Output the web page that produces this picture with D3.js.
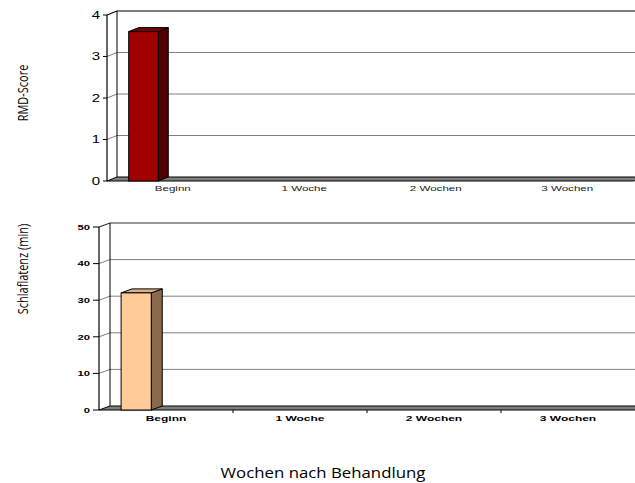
<!DOCTYPE html>
<html>
<head>
<meta charset="utf-8">
<script src="https://cdn.jsdelivr.net/npm/d3@7"></script>
<style>
  html, body { margin: 0; padding: 0; background: #fff; }
  svg { display: block; }
</style>
</head>
<body>
<svg id="chart" width="635" height="483"></svg>
<script>
// Weeks after treatment
const categories = ["Beginn", "1 Woche", "2 Wochen", "3 Wochen"];
// RMD score per week (only the start value was recorded)
const rmdValues = [3.6, null, null, null];
// Sleep latency in minutes per week
const latencyValues = [32, null, null, null];
const rmdTicks = [0, 1, 2, 3, 4];
const latencyTicks = [0, 10, 20, 30, 40, 50];

const svg = d3.select("#chart");
const SANS = "Liberation Sans, Arial, sans-serif";

// Text with a horizontal stretch factor (the chart's lettering is set wide)
function wideText(g, x, y, str, opts) {
  return g.append("text")
    .attr("transform", `translate(${x},${y}) scale(${opts.sx || 1},1)`)
    .attr("text-anchor", opts.anchor || "middle")
    .attr("dy", opts.dy || null)
    .attr("font-family", opts.family || SANS)
    .attr("font-size", opts.size)
    .attr("font-weight", opts.weight || "normal")
    .attr("fill", opts.fill || "#000")
    .text(str);
}

// Draws one pseudo-3D column panel (side wall, back wall, floor, column)
function panel(cfg) {
  const g = svg.append("g");
  const { dx, dy } = cfg;
  const x = d3.scaleBand().domain(categories).range([cfg.left, cfg.right]);
  const y = d3.scaleLinear().domain(cfg.domain).range([cfg.bottom, cfg.top]);

  // gridlines: diagonal across the side wall, then along the back wall
  cfg.ticks.forEach(t => {
    if (t === cfg.domain[0]) return;
    const yy = y(t);
    const isTop = t === cfg.domain[1];
    g.append("path")
      .attr("d", `M${cfg.left},${yy}L${cfg.left + dx},${yy + dy}L${cfg.right + dx + 20},${yy + dy}`)
      .attr("fill", "none")
      .attr("stroke", isTop ? cfg.wallTop : "#7f7f7f")
      .attr("stroke-width", isTop ? 1.2 : 1);
  });

  // back wall left edge
  g.append("line")
    .attr("x1", cfg.left + dx).attr("x2", cfg.left + dx)
    .attr("y1", y(cfg.domain[1]) + dy).attr("y2", y(0) + dy)
    .attr("stroke", "#000").attr("stroke-width", 1);

  // floor
  g.append("path")
    .attr("d", `M${cfg.left},${y(0)}L${cfg.left + dx},${y(0) + dy}L${cfg.right + dx + 20},${y(0) + dy}L${cfg.right + 20},${y(0) + dy}L${cfg.right},${y(0)}Z`)
    .attr("fill", "#808080").attr("stroke", "#000").attr("stroke-width", 1);

  // front value axis
  g.append("line")
    .attr("x1", cfg.left).attr("x2", cfg.left)
    .attr("y1", y(cfg.domain[1])).attr("y2", y(0))
    .attr("stroke", "#000").attr("stroke-width", 1.2);
  cfg.ticks.forEach(t => {
    g.append("line")
      .attr("x1", cfg.left - cfg.tickLen).attr("x2", cfg.left)
      .attr("y1", y(t)).attr("y2", y(t))
      .attr("stroke", "#000");
    wideText(g, cfg.left - cfg.tickLen - 3, y(t), t, {
      anchor: "end", dy: "0.36em", size: cfg.yFont, sx: cfg.ySx,
      weight: cfg.bold ? "bold" : "normal"
    });
  });

  // category tick marks below the floor
  if (cfg.catTicks) {
    categories.slice(1).forEach(c => {
      g.append("line")
        .attr("x1", x(c)).attr("x2", x(c))
        .attr("y1", y(0)).attr("y2", y(0) + 3)
        .attr("stroke", "#000");
    });
  }

  // category labels
  categories.forEach(c => {
    wideText(g, x(c) + x.bandwidth() / 2, y(0) + cfg.catDy, c, {
      size: cfg.catFont, sx: cfg.catSx,
      weight: cfg.bold ? "bold" : "normal",
      fill: cfg.bold ? "#000" : "#222"
    });
  });

  // columns
  const bw = x.bandwidth() * 0.225;
  const off = x.bandwidth() * 0.165;
  cfg.values.forEach((v, i) => {
    if (v == null) return;
    const x0 = x(categories[i]) + off, x1 = x0 + bw;
    const yt = y(v), yb = y(0);
    g.append("path")
      .attr("d", `M${x1},${yt}L${x1 + dx},${yt + dy}L${x1 + dx},${yb + dy}L${x1},${yb}Z`)
      .attr("fill", cfg.colors.side).attr("stroke", "#000").attr("stroke-width", 1);
    g.append("path")
      .attr("d", `M${x0},${yt}L${x0 + dx},${yt + dy}L${x1 + dx},${yt + dy}L${x1},${yt}Z`)
      .attr("fill", cfg.colors.top).attr("stroke", "#000").attr("stroke-width", 1);
    g.append("rect")
      .attr("x", x0).attr("y", yt)
      .attr("width", bw).attr("height", yb - yt)
      .attr("fill", cfg.colors.front).attr("stroke", "#000").attr("stroke-width", 1);
  });

  // axis title
  g.append("text")
    .attr("transform", `translate(${cfg.titleX},${cfg.titleY}) scale(1.25,1) rotate(-90)`)
    .attr("text-anchor", "middle")
    .attr("font-family", "Open Sans, sans-serif")
    .attr("font-size", 11)
    .attr("fill", "#000")
    .text(cfg.title);
}

panel({
  values: rmdValues, domain: [0, 4], ticks: rmdTicks,
  left: 107, right: 633, top: 15, bottom: 181, dx: 10, dy: -4,
  yFont: 10, ySx: 1.5, tickLen: 4,
  catFont: 8, catSx: 1.45, catDy: 10, bold: false, catTicks: false,
  wallTop: "#000",
  colors: { front: "#a00000", side: "#4f0000", top: "#7a0000" },
  title: "RMD-Score", titleX: 28, titleY: 93
});

panel({
  values: latencyValues, domain: [0, 50], ticks: latencyTicks,
  left: 99, right: 635, top: 227, bottom: 410, dx: 11, dy: -4,
  yFont: 7.5, ySx: 1.5, tickLen: 6,
  catFont: 8, catSx: 1.5, catDy: 11, bold: true, catTicks: true,
  wallTop: "#333",
  colors: { front: "#ffcc99", side: "#8a6a4a", top: "#dcb088" },
  title: "Schlaflatenz (min)", titleX: 28, titleY: 269
});

wideText(svg, 323, 478, "Wochen nach Behandlung", {
  family: "Open Sans, sans-serif", size: 14, sx: 1.2
});
</script>
</body>
</html>
